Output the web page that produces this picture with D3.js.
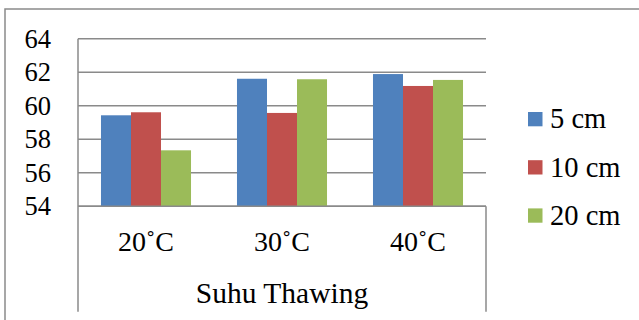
<!DOCTYPE html>
<html>
<head>
<meta charset="utf-8">
<script src="https://cdn.jsdelivr.net/npm/d3@7/dist/d3.min.js"></script>
<style>
  html, body { margin: 0; padding: 0; background: #ffffff; }
  svg { display: block; }
</style>
</head>
<body>
<script>
const categories = ["20˚C", "30˚C", "40˚C"];
const seriesNames = ["5 cm", "10 cm", "20 cm"];
const values5 = [59.43, 61.61, 61.89];
const values10 = [59.61, 59.57, 61.18];
const values20 = [57.34, 61.58, 61.54];
const yTicks = [54, 56, 58, 60, 62, 64];
const axisTitle = "Suhu Thawing";
const colors = ["#4F81BD", "#C0504D", "#9BBB59"];

(function () {
const FONT = '"Liberation Serif"';
const seriesValues = [values5, values10, values20];
const rows = categories.map((c, i) => ({
  cat: c,
  vals: seriesNames.map((s, j) => ({ series: s, idx: j, value: seriesValues[j][i] }))
}));

const W = 639, H = 320;
const svg = d3.select("body").append("svg").attr("width", W).attr("height", H);

// outer chart frame
svg.append("path").attr("d", `M5,${H} L5,9 L${W},9`)
  .attr("fill", "none").attr("stroke", "#8a8a8a").attr("stroke-width", 1.5);

const pL = 78, pR = 486, pT = 38.7, pB = 206.3;
const y = d3.scaleLinear().domain([54, 64]).range([pB, pT]);
const x0 = d3.scaleBand().domain(categories).range([pL, pR])
  .paddingInner(0.338).paddingOuter(0.169);
const x1 = d3.scaleBand().domain(seriesNames).range([0, x0.bandwidth()]).padding(0);

// gridlines
svg.append("g").selectAll("line").data(yTicks).join("line")
  .attr("x1", pL).attr("x2", pR)
  .attr("y1", d => y(d)).attr("y2", d => y(d))
  .attr("stroke", "#8a8a8a").attr("stroke-width", 1.5);

// y axis with labels
const yAxis = d3.axisLeft(y).tickValues(yTicks).tickSize(0).tickPadding(27);
const gy = svg.append("g").attr("transform", `translate(${pL},0)`).call(yAxis);
gy.select(".domain").remove();
gy.selectAll("text").style("font-size", "26.5px").style("font-family", FONT).style("fill", "#000");

// bars
svg.append("g").selectAll("g").data(rows).join("g")
  .attr("transform", d => `translate(${x0(d.cat)},0)`)
  .selectAll("rect").data(d => d.vals).join("rect")
  .attr("x", d => x1(d.series))
  .attr("width", x1.bandwidth())
  .attr("y", d => y(d.value))
  .attr("height", d => y(54) - y(d.value))
  .attr("fill", d => colors[d.idx]);

// vertical axis lines and category box
svg.append("line").attr("x1", pL).attr("x2", pL).attr("y1", pT).attr("y2", 311.7)
  .attr("stroke", "#8a8a8a").attr("stroke-width", 1.5);
svg.append("line").attr("x1", pR).attr("x2", pR).attr("y1", pB).attr("y2", 311.7)
  .attr("stroke", "#8a8a8a").attr("stroke-width", 1.5);
svg.append("line").attr("x1", pL).attr("x2", pR).attr("y1", pB).attr("y2", pB)
  .attr("stroke", "#8a8a8a").attr("stroke-width", 1.5);

// category labels
const xAxis = d3.axisBottom(x0).tickSize(0).tickPadding(0);
const gx = svg.append("g").attr("transform", `translate(0,${pB})`).call(xAxis);
gx.select(".domain").remove();
gx.selectAll("text").attr("dy", null).attr("y", 45)
  .style("font-size", "28px").style("font-family", FONT).style("fill", "#000");

// outer category title
svg.append("text").attr("x", (pL + pR) / 2).attr("y", 303)
  .attr("text-anchor", "middle")
  .style("font-size", "29.5px").style("font-family", FONT).style("fill", "#000")
  .text(axisTitle);

// legend
const legend = svg.append("g").selectAll("g").data(seriesNames).join("g")
  .attr("transform", (d, i) => `translate(528,${112 + i * 48.2})`);
legend.append("rect").attr("width", 14.5).attr("height", 14.3)
  .attr("fill", (d, i) => colors[i]);
legend.append("text").attr("x", 22).attr("y", 16.3)
  .style("font-size", "28.5px").style("font-family", FONT).style("fill", "#000")
  .text(d => d);
})();
</script>
</body>
</html>
